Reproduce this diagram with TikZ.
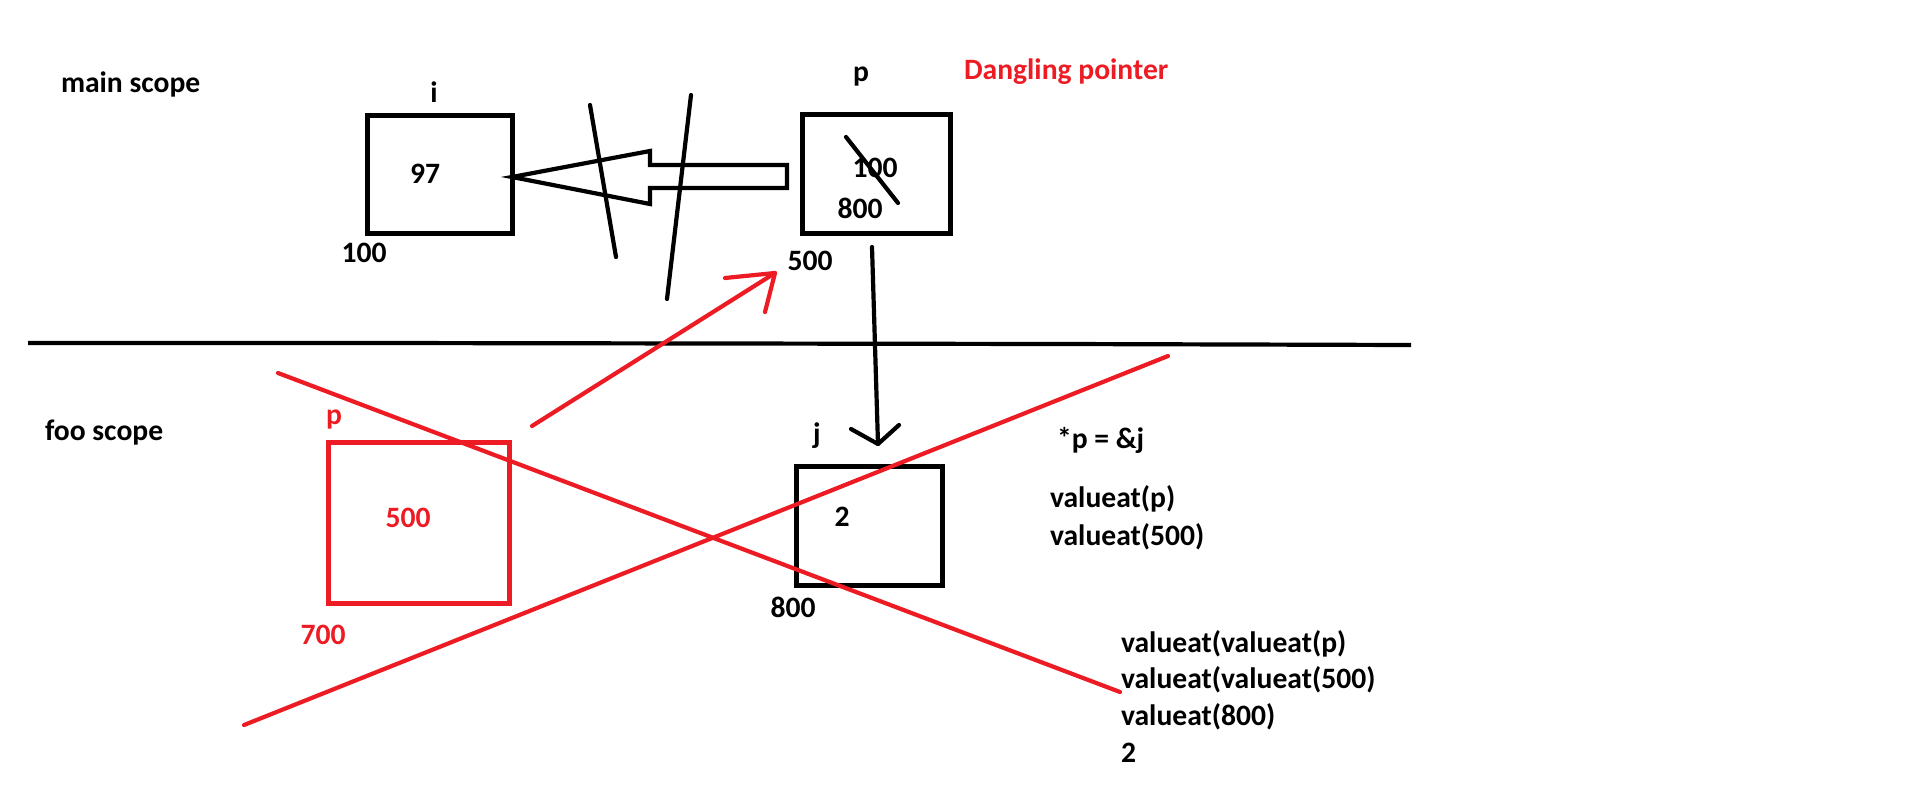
\documentclass[tikz,border=0pt]{standalone}
\usepackage{fontspec}
\setmainfont{Carlito}
\definecolor{pred}{RGB}{237,28,36}
\begin{document}
\begin{tikzpicture}[x=1pt,y=-1pt,
  every node/.style={inner sep=0pt, outer sep=0pt, font=\fontsize{29.6}{36}\selectfont\bfseries},
  box/.style={draw, line width=5pt, rectangle},
  lbl/.style={anchor=base},
  lblw/.style={anchor=base west},
  stroke/.style={line width=4.2pt, line cap=round},
  redc/.style={color=pred, text=pred}]
\useasboundingbox (0,0) rectangle (1914,809);
% labels main scope
\node[lblw] (mainscope) at (61,92) {main scope};
\node[lblw] (fooscope) at (45,440) {foo scope};
\node[lbl] (ilbl) at (434,102) {i};
\node[lbl] (plbl) at (861,81) {p};
\node[lblw, redc] (dangling) at (964,79) {Dangling pointer};
% boxes
\node[box, minimum width=145pt, minimum height=118pt] (bi) at (439.5,174) {};
\node[box, minimum width=148pt, minimum height=119pt] (bp) at (876,173.5) {};
\node[box, minimum width=146pt, minimum height=119pt] (bj) at (869,525.5) {};
\node[box, redc, minimum width=181pt, minimum height=161pt] (bfp) at (418.5,522.5) {};
% texts in/around boxes
\node[lbl] (v97) at (425,183) {97};
\node[lbl] (a100) at (364,262) {100};
\node[lbl] (v100) at (875,177) {100};
\node[lbl] (v800) at (860,218) {800};
\node[lbl] (a500) at (810,270) {500};
\node[lbl, redc] (fplbl) at (334,424) {p};
\node[lbl, redc] (v500) at (408,527) {500};
\node[lbl, redc] (a700) at (323,644) {700};
\node[lbl] (jlbl) at (817,443) {j};
\node[lbl] (v2) at (842,526) {2};
\node[lbl] (a800) at (793,617) {800};
\node[lblw] (eq) at (1057,448) {*p = \&j};
\node[lblw] (va1) at (1050,507) {valueat(p)};
\node[lblw] (va2) at (1050,545) {valueat(500)};
\node[lblw] (vb1) at (1121,652) {valueat(valueat(p)};
\node[lblw] (vb2) at (1121,688) {valueat(valueat(500)};
\node[lblw] (vb3) at (1121,725) {valueat(800)};
\node[lblw] (vb4) at (1121,762) {2};
% scope separator
\coordinate (sepL) at (28,343);
\coordinate (sepR) at (1411,345);
\draw[stroke, line cap=butt] (sepL) -- (374,343) -- (1063,344) -- (sepR);
% big hollow arrow from p to i
\draw[line width=4.2pt, line join=miter] (787,165) -- (650,165) -- (650,151) -- (bi.east |- 0,177) -- (650,204) -- (650,188) -- (787,188) -- cycle;
% strike lines over arrow
\draw[stroke] (590,105) -- (616,257);
\draw[stroke] (691,95) -- (667,299);
% strike over 100
\draw[stroke] (846,137) -- (898,203);
% black arrow p -> j
\coordinate (ds) at (872,247);
\coordinate (de) at (878,444);
\draw[stroke] (ds) -- (de);
\draw[stroke, line join=round] (851,429) -- (de) -- (899,425);
% red arrow from foo p to 500
\coordinate (rs) at (532,426);
\coordinate (re) at (775,273);
\draw[stroke, redc] (rs) -- (re);
\draw[stroke, redc, line join=round] (725,278) -- (re) -- (765,312);
% red cross-out lines
\draw[stroke, redc] (278,373) -- (1120,692);
\draw[stroke, redc] (244,725) -- (1168,356);
\end{tikzpicture}
\end{document}
